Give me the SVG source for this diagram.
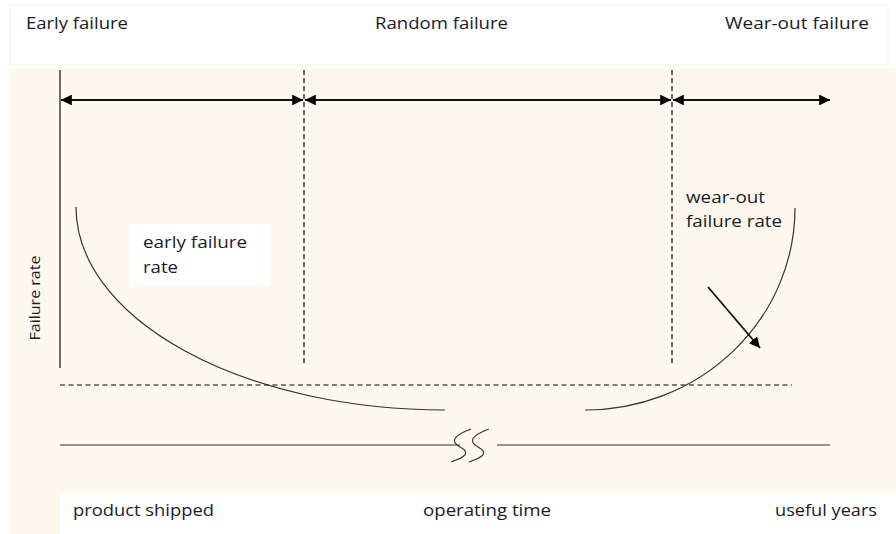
<svg xmlns="http://www.w3.org/2000/svg" width="896" height="534" viewBox="0 0 896 534">
<style>
.t{font-family:"Open Sans",Lato,"Liberation Sans",sans-serif;font-size:16.5px;fill:#1a1a2a}
.s{font-size:16px}
.ln{stroke:#222;stroke-width:1.3;fill:none}
.cv{stroke:#333;stroke-width:1.2;fill:none}
.dv{stroke:#333;stroke-width:1.5;stroke-dasharray:5 3;fill:none}
.dh{stroke:#555;stroke-width:1.3;stroke-dasharray:5 3.5;fill:none}
.ar{stroke:#111;stroke-width:1.8;fill:none;marker-end:url(#ah);marker-start:url(#ahs)}
</style>
<defs>
<marker id="ah" viewBox="0 0 10 10" refX="10" refY="5" markerWidth="6" markerHeight="6" markerUnits="strokeWidth" orient="auto"><path d="M0,0 L10,5 L0,10 Z" fill="#000"/></marker>
<marker id="ahs" viewBox="0 0 10 10" refX="0" refY="5" markerWidth="6" markerHeight="6" markerUnits="strokeWidth" orient="auto"><path d="M10,0 L0,5 L10,10 Z" fill="#000"/></marker>
</defs>
<rect x="0" y="0" width="896" height="534" fill="#fff"/>
<rect x="10" y="5" width="878" height="60" fill="#fff" stroke="#f3f3f3" stroke-width="1"/>
<rect x="10" y="68" width="886" height="466" fill="#fef9ee"/>
<rect x="60" y="493" width="836" height="41" fill="#fff"/>

<g id="header">
<text class="t" x="26" y="29" textLength="102" lengthAdjust="spacingAndGlyphs">Early failure</text>
<text class="t" x="375" y="29" textLength="133" lengthAdjust="spacingAndGlyphs">Random failure</text>
<text class="t" x="725" y="29" textLength="144" lengthAdjust="spacingAndGlyphs">Wear-out failure</text>
</g>

<g id="connectors">
<line class="ln" x1="60" y1="70" x2="60" y2="368"/>
<line class="dv" x1="304" y1="70" x2="304" y2="366"/>
<line class="dv" x1="672" y1="70" x2="672" y2="366"/>
<line class="ar" x1="61" y1="100" x2="303" y2="100"/>
<line class="ar" x1="305" y1="100" x2="671" y2="100"/>
<line class="ar" x1="673" y1="100" x2="830" y2="100"/>
<line class="dh" x1="60" y1="385" x2="792" y2="385"/>
<path class="cv" d="M76,207 A369,203 0 0 0 445,410"/>
<path class="cv" d="M585,410 A210,202 0 0 0 795,208"/>
<line x1="708" y1="287" x2="760" y2="348" stroke="#111" stroke-width="1.8" marker-end="url(#ah)"/>
<line class="cv" x1="60" y1="445" x2="460" y2="445" stroke-width="1.3"/>
<line class="cv" x1="497" y1="445" x2="830" y2="445" stroke-width="1.3"/>
<path class="cv" d="M471,429 C455,435 449,441 460,447 C471,453 465,457 451,462"/>
<path class="cv" d="M489,429 C473,435 467,441 478,447 C489,453 483,457 469,462"/>
</g>

<g id="early-label">
<rect x="130" y="224" width="139" height="62" fill="#fff"/>
<text class="t s" x="143" y="248" textLength="104" lengthAdjust="spacingAndGlyphs">early failure</text>
<text class="t s" x="143" y="273" textLength="35" lengthAdjust="spacingAndGlyphs">rate</text>
</g>

<g id="wearout-label">
<text class="t s" x="686" y="203" textLength="79" lengthAdjust="spacingAndGlyphs">wear-out</text>
<text class="t s" x="686" y="227" textLength="96" lengthAdjust="spacingAndGlyphs">failure rate</text>
</g>

<g id="yaxis-label">
<text class="t" style="font-size:15px" x="0" y="0" text-anchor="middle" textLength="85" lengthAdjust="spacingAndGlyphs" transform="translate(40,298) rotate(-90)">Failure rate</text>
</g>

<g id="footer">
<text class="t" x="73" y="516" textLength="141" lengthAdjust="spacingAndGlyphs">product shipped</text>
<text class="t" x="423" y="516" textLength="128" lengthAdjust="spacingAndGlyphs">operating time</text>
<text class="t" x="775" y="516" textLength="102" lengthAdjust="spacingAndGlyphs">useful years</text>
</g>
</svg>
